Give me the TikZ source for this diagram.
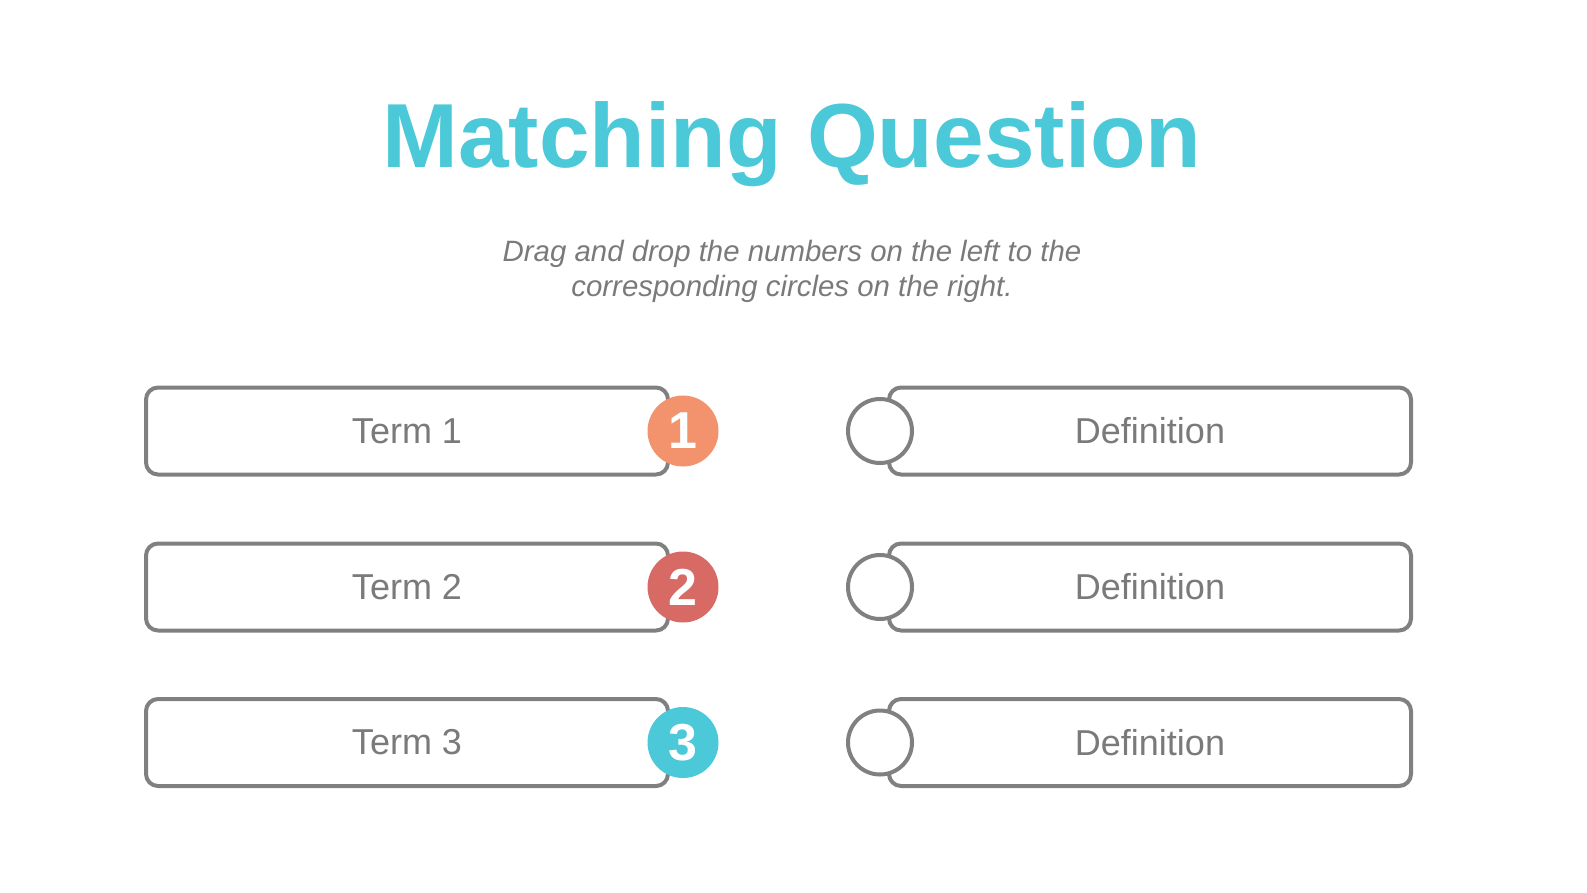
\documentclass[tikz,border=0pt]{standalone}
\usepackage{fontspec}
\setmainfont{Liberation Sans}

\definecolor{qteal}{HTML}{4BC9D8}
\definecolor{qorange}{HTML}{F2936E}
\definecolor{qred}{HTML}{D86A65}
\definecolor{qline}{HTML}{808080}
\definecolor{qtext}{HTML}{7A7A7A}

\begin{document}
\begin{tikzpicture}[
  x=1pt, y=-1pt,
  every path/.style={line cap=round, line join=round},
  termbox/.style={draw=qline, line width=4pt, rounded corners=12pt, fill=white,
    minimum width=522pt, minimum height=87pt, inner sep=0pt,
    text=qtext, font=\fontsize{36}{40}\selectfont},
  numdot/.style={circle, minimum size=71pt, inner sep=0pt, text=white,
    font=\fontsize{52}{56}\selectfont\bfseries},
  slotdot/.style={circle, draw=qline, line width=4pt, fill=white,
    minimum size=64pt, inner sep=0pt}
]
\useasboundingbox (0,0) rectangle (1587,892);

% ---------------- Heading ----------------
\node[anchor=base, text=qteal, font=\fontsize{91}{96}\selectfont\bfseries]
  (title) at (792,167) {Matching Question};
\node[anchor=base, text=qtext, font=\fontsize{29.4}{34}\selectfont\itshape]
  (hintA) at (792,261) {Drag and drop the numbers on the left to the};
\node[anchor=base, text=qtext, font=\fontsize{29.4}{34}\selectfont\itshape]
  (hintB) at (792,296.5) {corresponding circles on the right.};

% ---------------- Rows ----------------
\foreach \i/\y/\c in {1/431/qorange, 2/587/qred, 3/742.5/qteal} {
  \node[termbox] (term\i) at (407,\y) {Term \i};
  \node[numdot, fill=\c] (num\i) at ([xshift=13pt]term\i.east) {\i};
  \node[termbox] (def\i) at (1150,\y) {Definition};
  \node[slotdot] (slot\i) at ([xshift=-7pt]def\i.west) {};
}

\end{tikzpicture}
\end{document}
